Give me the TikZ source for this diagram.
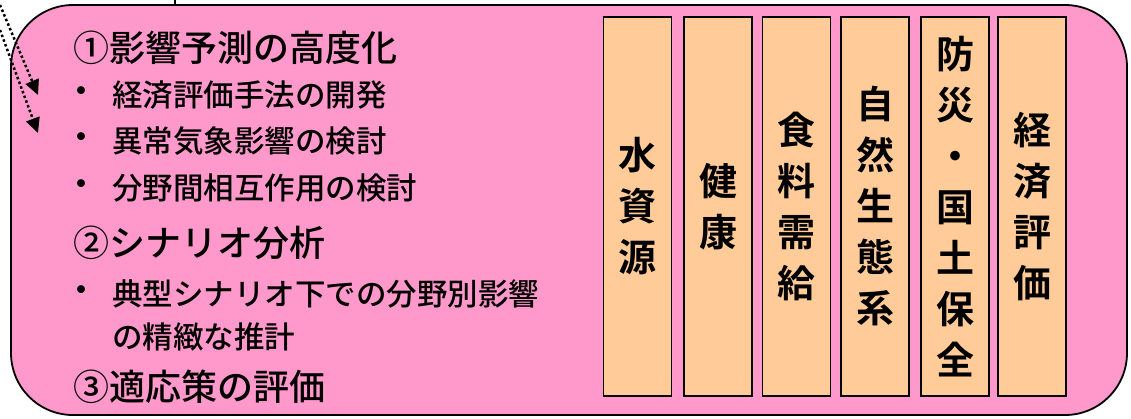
\documentclass[tikz,border=0pt]{standalone}
\usepackage{fontspec}
\newfontfamily\jpfont{Noto Sans CJK JP Medium}
\newfontfamily\jpbold{Noto Sans CJK JP Bold}
\usetikzlibrary{arrows.meta}
\definecolor{panelpink}{RGB}{255,153,204}
\definecolor{fieldpeach}{RGB}{255,204,153}
\tikzset{
	panel/.style={draw, line width=1.8pt, fill=panelpink, rounded corners=62pt, minimum width=1116pt, minimum height=410pt, inner sep=0},
	head/.style={anchor=base west, inner sep=0, font=\jpfont\fontsize{36}{36}\selectfont},
	item/.style={anchor=base west, inner sep=0, font=\jpfont\fontsize{30.5}{30.5}\selectfont},
	bullet/.style={inner sep=0, font=\jpfont\fontsize{34}{34}\selectfont},
	field/.style={draw, line width=1.8pt, fill=fieldpeach, minimum width=68pt, minimum height=379pt, inner sep=0, align=center, font=\jpbold\fontsize{38}{51}\selectfont},
	hint/.style={line width=2.5pt, dash pattern=on 2.5pt off 2.5pt, -{Triangle[length=15pt,width=14pt]}}
}

\begin{document}
\begin{tikzpicture}[x=1pt,y=-1pt]
	%%%%% START %%%%%
	\useasboundingbox (0,0) rectangle (1131,418);
	
	\node[panel] (panel) at (569,210) {};
	
	\coordinate (lead) at (175,0);
	\draw[line width=1.5pt] (lead) -- (lead |- panel.north);
	
	\coordinate (from1) at (0,5);
	\coordinate (to1) at (38,95);
	\coordinate (from2) at (0,30);
	\coordinate (to2) at (38,133);
	\draw[hint] (from1) -- (to1);
	\draw[hint] (from2) -- (to2);
	
	\node[head] (goal1) at (73,61.7) {①影響予測の高度化};
	\node[bullet] (dot1) at (81,95) {・};
	\node[item] (econ) at (112,106.6) {経済評価手法の開発};
	\node[bullet] (dot2) at (81,141) {・};
	\node[item] (extreme) at (112,152.6) {異常気象影響の検討};
	\node[bullet] (dot3) at (81,188) {・};
	\node[item] (inter) at (112,199.6) {分野間相互作用の検討};
	
	\node[head] (goal2) at (73,256.7) {②シナリオ分析};
	\node[bullet] (dot4) at (81,294) {・};
	\node[item] (typical) at (112,305.6) {典型シナリオ下での分野別影響};
	\node[item] (precise) at (112,348.6) {の精緻な推計};
	
	\node[head] (goal3) at (73,400.7) {③適応策の評価};
	
	\node[field] (water) at (637.5,206.5) {水\\資\\源};
	\node[field] (health) at (718,206.5) {健\\康};
	\node[field] (food) at (796.5,206.5) {食\\料\\需\\給};
	\node[field] (nature) at (875,206.5) {自\\然\\生\\態\\系};
	\node[field] (disaster) at (955,206.5) {防\\災\\・\\国\\土\\保\\全};
	\node[field] (economy) at (1032,206.5) {経\\済\\評\\価};
	%%%%% END %%%%%
\end{tikzpicture}
\end{document}
